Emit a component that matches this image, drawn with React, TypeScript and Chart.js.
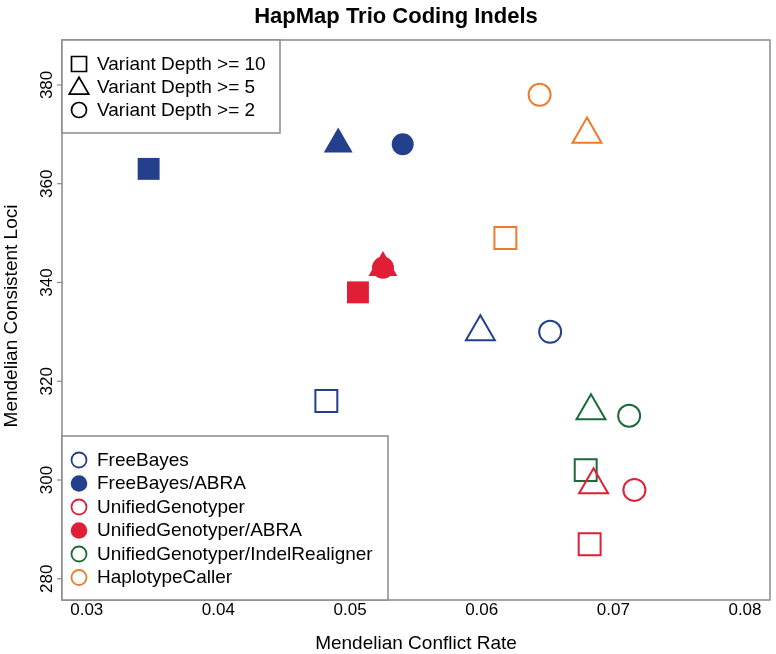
import { useEffect, useRef } from 'react';
import { Chart, registerables } from 'chart.js';

Chart.register(...registerables);

// ---- data ----
const methods = [
  'FreeBayes',
  'FreeBayes/ABRA',
  'UnifiedGenotyper',
  'UnifiedGenotyper/ABRA',
  'UnifiedGenotyper/IndelRealigner',
  'HaplotypeCaller',
];
const methodColors = ['#243F8B', '#243F8B', '#E01F37', '#E01F37', '#1C6A3A', '#EE7A2C'];
const methodFilled = [false, true, false, true, false, false];

const depthLabels = ['Variant Depth >= 10', 'Variant Depth >= 5', 'Variant Depth >= 2'];
const depthShapes = ['rect', 'triangle', 'circle'];

// Mendelian conflict rate (x) per depth [>=10, >=5, >=2]
const conflictFreeBayes = [0.0482, 0.0599, 0.0652];
const conflictFreeBayesABRA = [0.0347, 0.0491, 0.054];
const conflictUG = [0.0682, 0.0685, 0.0716];
const conflictUGABRA = [0.0506, 0.0525, 0.0525];
const conflictUGIR = [0.0679, 0.0683, 0.0712];
const conflictHC = [0.0618, 0.068, 0.0644];

// Mendelian consistent loci (y) per depth [>=10, >=5, >=2]
const lociFreeBayes = [316, 330, 330];
const lociFreeBayesABRA = [363, 368, 368];
const lociUG = [287, 299, 298];
const lociUGABRA = [338, 343, 343];
const lociUGIR = [302, 314, 313];
const lociHC = [349, 370, 378];

const xTickValues = [0.03, 0.04, 0.05, 0.06, 0.07, 0.08];
const yTickValues = [280, 300, 320, 340, 360, 380];

const chartTitle = 'HapMap Trio Coding Indels';
const xTitle = 'Mendelian Conflict Rate';
const yTitle = 'Mendelian Consistent Loci';

const conflictSeries = [conflictFreeBayes, conflictFreeBayesABRA, conflictUG, conflictUGABRA, conflictUGIR, conflictHC];
const lociSeries = [lociFreeBayes, lociFreeBayesABRA, lociUG, lociUGABRA, lociUGIR, lociHC];

const FONT = '"Liberation Sans", Arial, Helvetica, sans-serif';
const BOX_COLOR = '#8a8a8a';

function drawShape(
  ctx: CanvasRenderingContext2D,
  shape: string,
  x: number,
  y: number,
  r: number,
  filled: boolean,
  color: string,
  lw: number
) {
  ctx.save();
  ctx.beginPath();
  if (shape === 'rect') {
    ctx.rect(x - r, y - r, 2 * r, 2 * r);
  } else if (shape === 'triangle') {
    const h = r * 1.5;
    const w = r * Math.sqrt(3);
    ctx.moveTo(x, y - r);
    ctx.lineTo(x + w / 2, y - r + h);
    ctx.lineTo(x - w / 2, y - r + h);
    ctx.closePath();
  } else {
    ctx.arc(x, y, r, 0, Math.PI * 2);
  }
  if (filled) {
    ctx.fillStyle = color;
    ctx.fill();
  } else {
    ctx.strokeStyle = color;
    ctx.lineWidth = lw;
    ctx.lineJoin = 'miter';
    ctx.stroke();
  }
  ctx.restore();
}

const decorPlugin = {
  id: 'decor',
  afterDraw(chart: any) {
    const ctx: CanvasRenderingContext2D = chart.ctx;
    const ca = chart.chartArea;
    const xs = chart.scales.x;
    const ys = chart.scales.y;
    ctx.save();

    // plot border
    ctx.strokeStyle = BOX_COLOR;
    ctx.lineWidth = 1.5;
    ctx.strokeRect(ca.left, ca.top, ca.right - ca.left, ca.bottom - ca.top);

    // title
    ctx.fillStyle = '#000';
    ctx.font = `bold 22px ${FONT}`;
    ctx.textAlign = 'center';
    ctx.textBaseline = 'alphabetic';
    ctx.fillText(chartTitle, 396, 23);

    // x ticks labels
    ctx.font = `17px ${FONT}`;
    ctx.textAlign = 'center';
    ctx.textBaseline = 'alphabetic';
    xTickValues.forEach((v) => {
      const px = xs.getPixelForValue(v);
      ctx.fillText(v.toFixed(2), px, ca.bottom + 15);
    });

    // y ticks + labels
    ctx.strokeStyle = BOX_COLOR;
    ctx.lineWidth = 1.2;
    yTickValues.forEach((v) => {
      const py = ys.getPixelForValue(v);
      ctx.beginPath();
      ctx.moveTo(ca.left - 5, py);
      ctx.lineTo(ca.left, py);
      ctx.stroke();
      ctx.save();
      ctx.translate(ca.left - 10.3, py);
      ctx.rotate(-Math.PI / 2);
      ctx.textAlign = 'center';
      ctx.textBaseline = 'alphabetic';
      ctx.fillText(String(v), 0, 0);
      ctx.restore();
    });

    // axis titles
    ctx.font = `19px ${FONT}`;
    ctx.textAlign = 'center';
    ctx.textBaseline = 'alphabetic';
    ctx.fillText(xTitle, (ca.left + ca.right) / 2, 649);
    ctx.save();
    ctx.translate(16.5, 316);
    ctx.rotate(-Math.PI / 2);
    ctx.fillText(yTitle, 0, 0);
    ctx.restore();

    // depth legend (top-left)
    ctx.fillStyle = '#fff';
    ctx.fillRect(ca.left, ca.top, 218, 93);
    ctx.strokeStyle = BOX_COLOR;
    ctx.lineWidth = 1.5;
    ctx.strokeRect(ca.left, ca.top, 218, 93);
    ctx.font = `19px ${FONT}`;
    ctx.textAlign = 'left';
    ctx.textBaseline = 'middle';
    depthLabels.forEach((lab, i) => {
      const cy = ca.top + 24 + i * 23;
      const cx = ca.left + 17;
      if (depthShapes[i] === 'rect') drawShape(ctx, 'rect', cx, cy, 7.5, false, '#000', 1.7);
      else if (depthShapes[i] === 'triangle') drawShape(ctx, 'triangle', cx, cy + 1.5, 11.3, false, '#000', 1.7);
      else drawShape(ctx, 'circle', cx, cy, 7.5, false, '#000', 1.7);
      ctx.fillStyle = '#000';
      ctx.fillText(lab, ca.left + 35, cy + 0.5);
    });

    // method legend (bottom-left)
    const bx = ca.left;
    const by = 436;
    const bw = 388 - ca.left;
    const bh = ca.bottom - by;
    ctx.fillStyle = '#fff';
    ctx.fillRect(bx, by, bw, bh);
    ctx.strokeStyle = BOX_COLOR;
    ctx.lineWidth = 1.5;
    ctx.strokeRect(bx, by, bw, bh);
    methods.forEach((m, i) => {
      const cy = by + 24 + i * 23.5;
      drawShape(ctx, 'circle', ca.left + 17, cy, methodFilled[i] ? 8.3 : 7.5, methodFilled[i], methodColors[i], 1.8);
      ctx.fillStyle = '#000';
      ctx.fillText(m, ca.left + 35, cy + 0.5);
    });

    ctx.restore();
  },
};

export default function App() {
  const canvasRef = useRef<HTMLCanvasElement | null>(null);

  useEffect(() => {
    document.body.style.margin = '0';
    const canvas = canvasRef.current;
    if (!canvas) return;

    const datasets = methods.map((m, i) => ({
      label: m,
      data: conflictSeries[i].map((x, j) => ({ x, y: lociSeries[i][j] })),
      pointStyle: depthShapes as any,
      pointRadius: [15.5, 16.7, 11],
      pointHoverRadius: [15.5, 16.7, 11],
      borderColor: methodColors[i],
      backgroundColor: methodFilled[i] ? methodColors[i] : 'rgba(0,0,0,0)',
      pointBorderWidth: methodFilled[i] ? 0 : 2,
      borderWidth: methodFilled[i] ? 0 : 2,
      showLine: false,
    }));

    const chart = new Chart(canvas, {
      type: 'scatter',
      data: { datasets },
      options: {
        responsive: false,
        animation: false,
        devicePixelRatio: 1,
        layout: { autoPadding: false, padding: { top: 40, right: 6, left: 0, bottom: 0 } },
        plugins: {
          legend: { display: false },
          title: { display: false },
          tooltip: { enabled: false },
        },
        scales: {
          x: {
            type: 'linear',
            min: 0.02812,
            max: 0.0819,
            ticks: { display: false, stepSize: 0.01, includeBounds: false },
            grid: { display: false },
            border: { display: false },
            afterFit: (s: any) => {
              s.height = 54;
            },
          },
          y: {
            type: 'linear',
            min: 275.7,
            max: 389.1,
            ticks: { display: false, stepSize: 20, includeBounds: false },
            grid: { display: false },
            border: { display: false },
            afterFit: (s: any) => {
              s.width = 62;
            },
          },
        },
      },
      plugins: [decorPlugin],
    });

    return () => chart.destroy();
  }, []);

  return (
    <div style={{ position: 'absolute', left: 0, top: 0, width: 776, height: 654, background: '#fff' }}>
      <canvas ref={canvasRef} width={776} height={654} style={{ width: 776, height: 654, display: 'block' }} />
    </div>
  );
}
